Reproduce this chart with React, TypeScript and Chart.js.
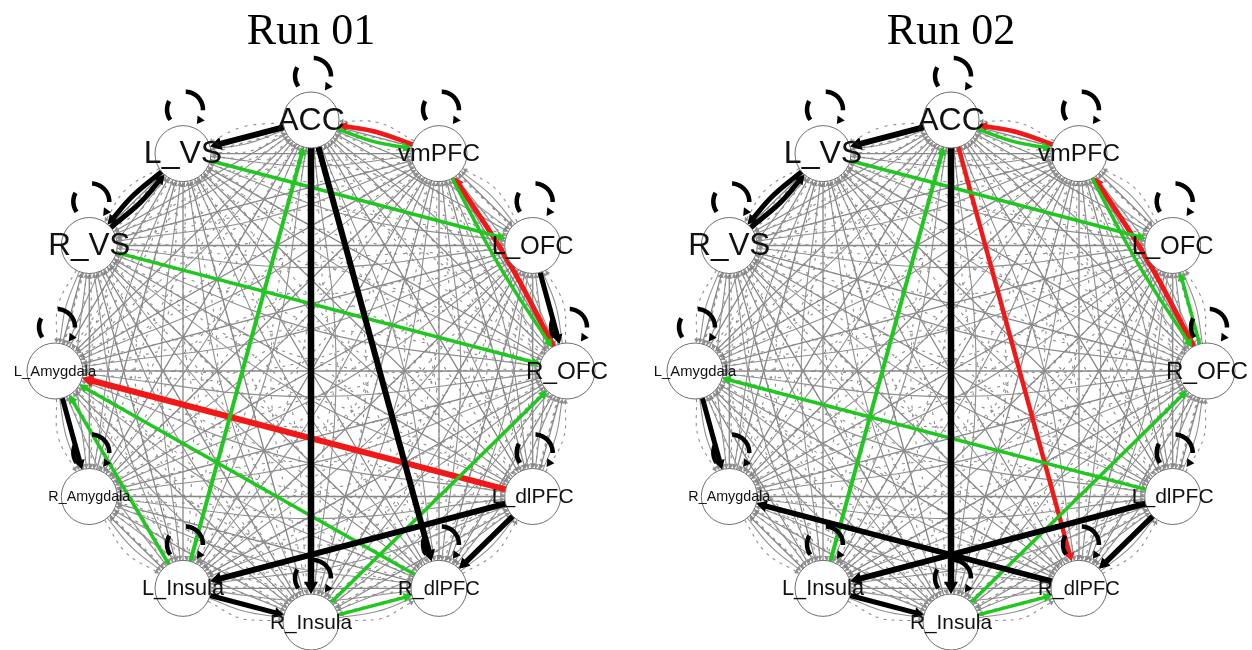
import React, { useEffect, useRef } from 'react';
import { Chart, registerables } from 'chart.js';
Chart.register(...registerables);

// ---- data ----
const NODES = ['ACC', 'vmPFC', 'L_OFC', 'R_OFC', 'L_dlPFC', 'R_dlPFC', 'R_Insula', 'L_Insula', 'R_Amygdala', 'L_Amygdala', 'R_VS', 'L_VS'];
const TITLES = ['Run 01', 'Run 02'];

// highlighted connections, run 01 (kind: 'B' black, 'G' green, 'R' red)
const RUN01_FROM = ['ACC', 'L_VS', 'R_VS', 'ACC', 'ACC', 'L_OFC', 'L_Amygdala', 'L_dlPFC', 'L_Insula', 'L_dlPFC', 'ACC', 'L_VS', 'R_VS', 'vmPFC', 'L_Insula', 'L_Insula', 'R_dlPFC', 'R_Insula', 'R_Insula', 'vmPFC', 'R_OFC', 'L_dlPFC'];
const RUN01_TO = ['L_VS', 'R_VS', 'L_VS', 'R_Insula', 'R_dlPFC', 'R_OFC', 'R_Amygdala', 'L_Insula', 'R_Insula', 'R_dlPFC', 'vmPFC', 'L_OFC', 'R_OFC', 'R_OFC', 'ACC', 'L_Amygdala', 'L_Amygdala', 'R_OFC', 'R_dlPFC', 'ACC', 'vmPFC', 'L_Amygdala'];
const RUN01_KIND = ['B', 'B', 'B', 'B', 'B', 'B', 'B', 'B', 'B', 'B', 'G', 'G', 'G', 'G', 'G', 'G', 'G', 'G', 'G', 'R', 'R', 'R'];
const RUN01_WEIGHT = [6, 5, 5, 6.5, 6, 5, 5, 6, 5, 5.5, 3.5, 3.5, 3.5, 3.5, 4, 3.5, 3.5, 3.5, 3.5, 4.5, 5, 6];

// highlighted connections, run 02
const RUN02_FROM = ['ACC', 'L_VS', 'R_VS', 'ACC', 'L_Amygdala', 'L_dlPFC', 'L_Insula', 'L_dlPFC', 'R_dlPFC', 'ACC', 'L_VS', 'L_Insula', 'vmPFC', 'R_OFC', 'L_dlPFC', 'R_Insula', 'R_Insula', 'vmPFC', 'R_OFC', 'ACC'];
const RUN02_TO = ['L_VS', 'R_VS', 'L_VS', 'R_Insula', 'R_Amygdala', 'L_Insula', 'R_Insula', 'R_dlPFC', 'R_Amygdala', 'vmPFC', 'L_OFC', 'ACC', 'R_OFC', 'L_OFC', 'L_Amygdala', 'R_OFC', 'R_dlPFC', 'ACC', 'vmPFC', 'R_dlPFC'];
const RUN02_KIND = ['B', 'B', 'B', 'B', 'B', 'B', 'B', 'B', 'B', 'G', 'G', 'G', 'G', 'G', 'G', 'G', 'G', 'R', 'R', 'R'];
const RUN02_WEIGHT = [6, 5, 5, 6.5, 5, 6, 5, 5.5, 5.5, 3.5, 3.5, 4, 3.5, 3.5, 3.5, 3.5, 3.5, 4.5, 5, 4.5];

// ---- styling / layout ----
const KIND_COLOR: Record<string, string> = { B: '#000000', G: '#1ec81e', R: '#f21818' };
const GRAY = '#888888';
const GRAY_CURVE = '#909090';
const GRAY_DASH = '#8e8e8e';
const R_X = 256;
const R_Y = 251;
const NODE_R = 28;
const CANVAS_W = 622;
const CANVAS_H = 650;
const PANELS = [
  { left: 0, padLeft: 0, cx: 311, cy: 371 },
  { left: 630, padLeft: 20, cx: 321, cy: 371 },
];

type P = { x: number; y: number };
const pos: P[] = NODES.map((_, k) => {
  const a = ((90 - 30 * k) * Math.PI) / 180;
  return { x: R_X * Math.cos(a), y: R_Y * Math.sin(a) };
});

function norm(x: number, y: number): P {
  const l = Math.hypot(x, y) || 1;
  return { x: x / l, y: y / l };
}

function edgeDataset(i: number, j: number, off: number, color: string, lw: number, dash: number[], ar: number, order: number) {
  const p = pos[i];
  const q = pos[j];
  const d = norm(q.x - p.x, q.y - p.y);
  const n = { x: d.y, y: -d.x };
  const m = { x: (p.x + q.x) / 2 + n.x * off, y: (p.y + q.y) / 2 + n.y * off };
  const ds = norm(m.x - p.x, m.y - p.y);
  const de = norm(q.x - m.x, q.y - m.y);
  const s = { x: p.x + ds.x * NODE_R, y: p.y + ds.y * NODE_R };
  const e = { x: q.x - de.x * (NODE_R + ar), y: q.y - de.y * (NODE_R + ar) };
  const rot = (Math.atan2(de.x, de.y) * 180) / Math.PI;
  const curved = off !== 0;
  return {
    data: curved ? [s, m, e] : [s, e],
    showLine: true,
    borderColor: color,
    borderWidth: lw,
    borderDash: dash,
    tension: curved ? 0.4 : 0,
    pointStyle: 'triangle',
    pointRadius: curved ? [0, 0, ar] : [0, ar],
    pointHoverRadius: curved ? [0, 0, ar] : [0, ar],
    pointRotation: curved ? [0, 0, rot] : [0, rot],
    pointBackgroundColor: color,
    pointBorderColor: color,
    pointBorderWidth: 0,
    fill: false,
    clip: false,
    order,
  };
}

function loopDataset(k: number) {
  const p = pos[k];
  const c = { x: p.x + 2, y: p.y + 44 };
  const r = 18;
  const pts: P[] = [];
  for (let a = 215; a >= -35; a -= 10) {
    const t = (a * Math.PI) / 180;
    pts.push({ x: c.x + r * Math.cos(t), y: c.y + r * Math.sin(t) });
  }
  const tEnd = (-35 * Math.PI) / 180;
  const tan = { x: Math.sin(tEnd), y: -Math.cos(tEnd) };
  const rot = (Math.atan2(tan.x, tan.y) * 180) / Math.PI;
  const radii = pts.map((_, i) => (i === pts.length - 1 ? 5 : 0));
  return {
    data: pts,
    showLine: true,
    borderColor: '#000',
    borderWidth: 4.5,
    borderDash: [20, 20, 28, 40],
    borderCapStyle: 'butt',
    tension: 0,
    pointStyle: 'triangle',
    pointRadius: radii,
    pointHoverRadius: radii,
    pointRotation: pts.map((_, i) => (i === pts.length - 1 ? rot : 0)),
    pointBackgroundColor: '#000',
    pointBorderColor: '#000',
    pointBorderWidth: 0,
    clip: false,
    order: 20,
  };
}

function buildDatasets(from: string[], to: string[], kind: string[], weight: number[]) {
  const sets: any[] = [];
  for (let i = 0; i < NODES.length; i++) {
    for (let j = i + 1; j < NODES.length; j++) {
      const L = Math.hypot(pos[j].x - pos[i].x, pos[j].y - pos[i].y);
      sets.push(edgeDataset(i, j, 0, GRAY, 1.3, [], 3.5, 40));
      sets.push(edgeDataset(j, i, 0.05 * L, GRAY_CURVE, 1.1, [], 3.2, 42));
      sets.push(edgeDataset(j, i, 0.11 * L, GRAY_DASH, 1.1, [3, 5], 3, 50));
      sets.push(edgeDataset(i, j, 0.08 * L, GRAY_DASH, 1.1, [3, 6], 3, 50));
    }
  }
  for (let e = 0; e < from.length; e++) {
    const i = NODES.indexOf(from[e]);
    const j = NODES.indexOf(to[e]);
    let hasReverse = false;
    for (let f = 0; f < from.length; f++) if (from[f] === to[e] && to[f] === from[e]) hasReverse = true;
    const lw = weight[e];
    const ar = Math.max(5.5, lw * 1.25);
    sets.push(edgeDataset(i, j, hasReverse ? 5 : 0, KIND_COLOR[kind[e]], lw, [], ar, 30));
  }
  NODES.forEach((_, k) => sets.push(loopDataset(k)));
  sets.push({
    data: pos,
    showLine: false,
    pointStyle: 'circle',
    pointRadius: NODE_R,
    pointHoverRadius: NODE_R,
    pointBackgroundColor: '#ffffff',
    pointBorderColor: '#6e6e6e',
    pointBorderWidth: 1,
    clip: false,
    order: 10,
  });
  return sets;
}

const labelPlugin = {
  id: 'nodeLabels',
  afterDatasetsDraw(chart: any) {
    const ctx = chart.ctx;
    const xs = chart.scales.x;
    const ys = chart.scales.y;
    const fam = '"Liberation Sans", Arial, Helvetica, sans-serif';
    ctx.save();
    ctx.fillStyle = '#111';
    ctx.textAlign = 'center';
    ctx.textBaseline = 'middle';
    NODES.forEach((name, k) => {
      ctx.font = `100px ${fam}`;
      const w = ctx.measureText(name).width / 100;
      const size = Math.min(32, 82 / w);
      ctx.font = `${size.toFixed(1)}px ${fam}`;
      ctx.fillText(name, xs.getPixelForValue(pos[k].x), ys.getPixelForValue(pos[k].y) + 1);
    });
    ctx.restore();
  },
};

function makeChart(canvas: HTMLCanvasElement, idx: number) {
  const panel = PANELS[idx];
  const src = idx === 0 ? [RUN01_FROM, RUN01_TO, RUN01_KIND, RUN01_WEIGHT] : [RUN02_FROM, RUN02_TO, RUN02_KIND, RUN02_WEIGHT];
  const top0 = 56;
  const chart = new Chart(canvas, {
    type: 'scatter',
    data: { datasets: buildDatasets(src[0] as string[], src[1] as string[], src[2] as string[], src[3] as number[]) },
    options: {
      responsive: false,
      animation: false,
      events: [],
      layout: { padding: { left: panel.padLeft, right: 0, top: 0, bottom: 0 } },
      scales: {
        x: { type: 'linear', display: false, min: panel.padLeft - panel.cx, max: CANVAS_W - panel.cx },
        y: { type: 'linear', display: false, min: panel.cy - CANVAS_H, max: panel.cy - top0 },
      },
      plugins: {
        legend: { display: false },
        tooltip: { enabled: false },
        title: {
          display: true,
          text: TITLES[idx],
          color: '#000',
          font: { family: '"Liberation Serif", "Times New Roman", Times, serif', size: 44, weight: 'normal', lineHeight: 1 },
          padding: { top: 10, bottom: 2 },
        },
      },
    } as any,
    plugins: [labelPlugin],
  });
  const a = chart.chartArea;
  const sx: any = (chart.options as any).scales.x;
  const sy: any = (chart.options as any).scales.y;
  sx.min = a.left - panel.cx;
  sx.max = a.right - panel.cx;
  sy.min = panel.cy - a.bottom;
  sy.max = panel.cy - a.top;
  chart.update('none');
  return chart;
}

export default function App() {
  const ref0 = useRef<HTMLCanvasElement>(null);
  const ref1 = useRef<HTMLCanvasElement>(null);
  useEffect(() => {
    document.body.style.margin = '0';
    const charts = [makeChart(ref0.current!, 0), makeChart(ref1.current!, 1)];
    return () => charts.forEach((c) => c.destroy());
  }, []);
  return (
    <div style={{ position: 'relative', width: 1252, height: 650, background: '#fff', overflow: 'hidden' }}>
      <canvas ref={ref0} width={CANVAS_W} height={CANVAS_H} style={{ position: 'absolute', left: PANELS[0].left, top: 0 }} />
      <canvas ref={ref1} width={CANVAS_W} height={CANVAS_H} style={{ position: 'absolute', left: PANELS[1].left, top: 0 }} />
    </div>
  );
}
